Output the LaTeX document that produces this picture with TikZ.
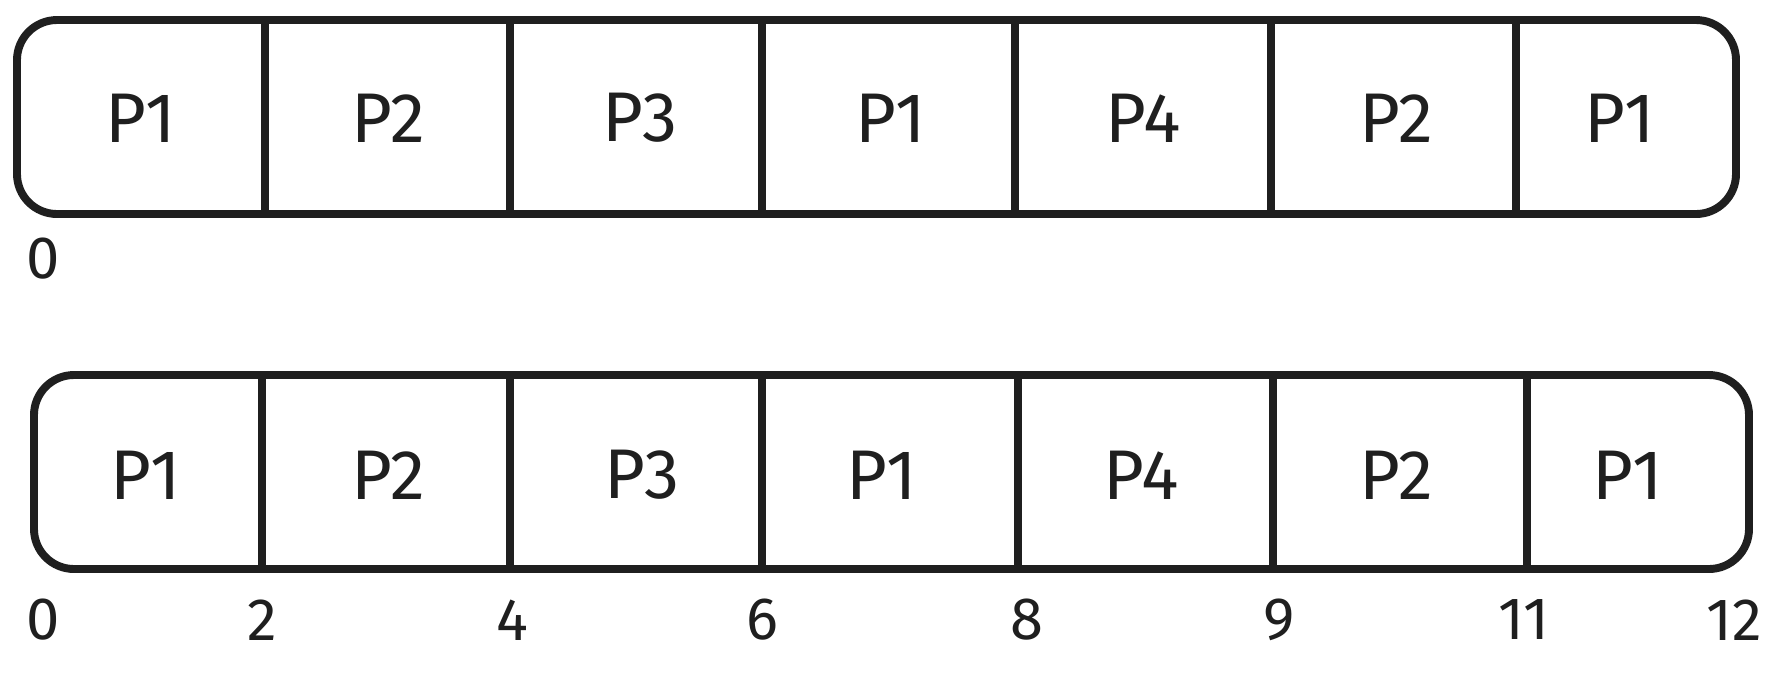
\documentclass[tikz,border=0pt]{standalone}
\usepackage{fontspec}
\setmainfont{Fira Sans}
\usetikzlibrary{positioning}

\begin{document}
\begin{tikzpicture}[x=0.02cm,y=-0.02cm]
    \tikzset{bar/.style={line width=4.5pt, rounded corners=0.8cm, line join=round, draw=black!88},
             sep/.style={line width=4pt, line cap=round, draw=black!88},
             slot/.style={font=\fontsize{40}{44}\selectfont, text=black!88},
             tick/.style={font=\fontsize{34}{38}\selectfont, text=black!88}}
    \useasboundingbox (0,0) rectangle (1783,681);
    % first timeline
    \draw[bar] (17,20) rectangle (1736,214);
            \foreach \x in {265,510,762,1015,1271,1516} \draw[sep] (\x,22) -- (\x,212);
            \foreach \x/\p [count=\i] in {141/P1,388/P2,640/P3,891/P1,1143/P4,1396/P2,1620/P1}
                \node[slot] (top\i) at (\x,118) {\p};
            \node[tick] (zero) at (43,259) {0};
    % second timeline
    \draw[bar] (34,375) rectangle (1749,569);
            \foreach \x in {262,510,762,1018,1273,1527} \draw[sep] (\x,377) -- (\x,567);
            \foreach \x/\p [count=\i] in {146/P1,388/P2,642/P3,882/P1,1141/P4,1396/P2,1628/P1}
                \node[slot] (bot\i) at (\x,475) {\p};
            \foreach \x/\t [count=\i] in {43/0,262/2,512/4,762/6,1027/8,1279/9,1524/11,1734/12}
                \node[tick] (tick\i) at (\x,620) {\t};
    \end{tikzpicture}
\end{document}
